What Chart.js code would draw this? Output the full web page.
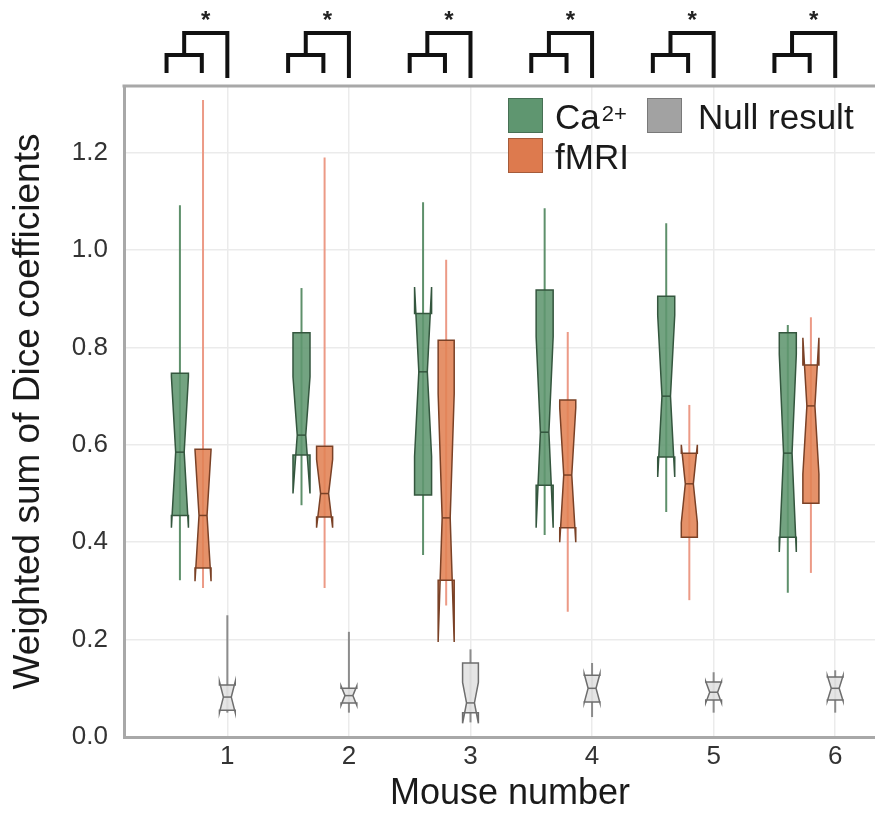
<!DOCTYPE html>
<html>
<head>
<meta charset="utf-8">
<script src="https://cdn.jsdelivr.net/npm/chart.js@4.4.0/dist/chart.umd.min.js"></script>
<style>
html, body { margin: 0; padding: 0; background: #fff; overflow: hidden; }
#wrap { width: 900px; height: 816px; }
</style>
</head>
<body>
<div id="wrap"><canvas id="myChart" width="900" height="816"></canvas></div>
<script>
const mice = [1, 2, 3, 4, 5, 6];
const yTicks = [0, 0.2, 0.4, 0.6, 0.8, 1.0, 1.2];
const seriesNames = ['Ca2+', 'fMRI', 'Null result'];

// each row: [whisker low, q1, median, q3, whisker high, notch half-height]
const caStats = [
  [0.322, 0.455, 0.585, 0.747, 1.092, 0.155],
  [0.476, 0.579, 0.620, 0.830, 0.922, 0.120],
  [0.374, 0.497, 0.750, 0.870, 1.098, 0.174],
  [0.415, 0.517, 0.626, 0.918, 1.086, 0.196],
  [0.462, 0.575, 0.700, 0.905, 1.055, 0.166],
  [0.296, 0.410, 0.583, 0.830, 0.846, 0.203]
];
const fmriStats = [
  [0.306, 0.347, 0.455, 0.591, 1.308, 0.135],
  [0.306, 0.452, 0.500, 0.597, 1.190, 0.070],
  [0.270, 0.322, 0.450, 0.815, 0.980, 0.255],
  [0.257, 0.430, 0.538, 0.692, 0.832, 0.138],
  [0.281, 0.410, 0.520, 0.583, 0.682, 0.080],
  [0.337, 0.480, 0.680, 0.764, 0.862, 0.140]
];
const nullStats = [
  [0.050, 0.055, 0.082, 0.107, 0.250, 0.032],
  [0.050, 0.070, 0.085, 0.100, 0.216, 0.020],
  [0.030, 0.050, 0.070, 0.152, 0.180, 0.042],
  [0.041, 0.072, 0.100, 0.127, 0.152, 0.030],
  [0.050, 0.076, 0.092, 0.113, 0.133, 0.022],
  [0.050, 0.076, 0.100, 0.123, 0.137, 0.026]
];

const FONT = '"Liberation Sans", Arial, Helvetica, sans-serif';

const styles = [
  { offset: -0.39, halfW: 0.07, fill: 'rgba(96,150,112,0.88)', edge: '#34563e', whisker: '#5e906b' },
  { offset: -0.20, halfW: 0.066, fill: 'rgba(225,130,84,0.88)', edge: '#7a4126', whisker: '#ec9a86' },
  { offset: 0, halfW: 0.065, fill: 'rgba(226,226,226,0.9)', edge: '#6e6e6e', whisker: '#8c8c8c' }
];
const allStats = [caStats, fmriStats, nullStats];

function drawBox(ctx, xs, ys, xc, st, s) {
  const [lo, q1, med, q3, hi, c] = s;
  const left = xs.getPixelForValue(xc - st.halfW);
  const right = xs.getPixelForValue(xc + st.halfW);
  const mid = xs.getPixelForValue(xc);
  const inset = (right - left) / 4;
  const py = v => ys.getPixelForValue(v);

  ctx.strokeStyle = st.whisker;
  ctx.lineWidth = 2;
  ctx.beginPath();
  ctx.moveTo(mid, py(lo));
  ctx.lineTo(mid, py(hi));
  ctx.stroke();

  ctx.beginPath();
  ctx.moveTo(left, py(q1));
  ctx.lineTo(left, py(med - c));
  ctx.lineTo(left + inset, py(med));
  ctx.lineTo(left, py(med + c));
  ctx.lineTo(left, py(q3));
  ctx.lineTo(right, py(q3));
  ctx.lineTo(right, py(med + c));
  ctx.lineTo(right - inset, py(med));
  ctx.lineTo(right, py(med - c));
  ctx.lineTo(right, py(q1));
  ctx.closePath();
  ctx.fillStyle = st.fill;
  ctx.fill();
  ctx.strokeStyle = st.edge;
  ctx.lineWidth = 1.5;
  ctx.stroke();

  ctx.beginPath();
  ctx.moveTo(left + inset, py(med));
  ctx.lineTo(right - inset, py(med));
  ctx.stroke();
}

const boxPlugin = {
  id: 'boxes',
  beforeDatasetsDraw(chart) {
    // top frame line
    const { ctx, chartArea } = chart;
    ctx.save();
    ctx.strokeStyle = '#a8a8a8';
    ctx.lineWidth = 3;
    ctx.beginPath();
    ctx.moveTo(chartArea.left - 1.5, chartArea.top);
    ctx.lineTo(chartArea.right, chartArea.top);
    ctx.stroke();
    ctx.restore();
  },
  afterDatasetsDraw(chart) {
    const { ctx, scales: { x, y }, chartArea } = chart;
    ctx.save();
    ctx.beginPath();
    ctx.rect(chartArea.left, chartArea.top, chartArea.right - chartArea.left, chartArea.bottom - chartArea.top);
    ctx.clip();
    allStats.forEach((stats, si) => {
      stats.forEach((s, i) => drawBox(ctx, x, y, mice[i] + styles[si].offset, styles[si], s));
    });
    ctx.restore();

    // significance brackets above each mouse
    ctx.save();
    ctx.strokeStyle = '#111';
    ctx.lineWidth = 4;
    ctx.lineCap = 'butt';
    const t = chartArea.top;
    mice.forEach(m => {
      const xa = x.getPixelForValue(m - 0.5);
      const xb = x.getPixelForValue(m - 0.21);
      const xn = x.getPixelForValue(m);
      const xm = (xa + xb) / 2;
      ctx.beginPath();
      ctx.moveTo(xa, t - 13); ctx.lineTo(xa, t - 31); ctx.lineTo(xb, t - 31); ctx.lineTo(xb, t - 13);
      ctx.moveTo(xm, t - 31); ctx.lineTo(xm, t - 53); ctx.lineTo(xn, t - 53); ctx.lineTo(xn, t - 8);
      ctx.stroke();
      ctx.fillStyle = '#222';
      ctx.font = 'bold 24px ' + FONT;
      ctx.textAlign = 'center';
      ctx.textBaseline = 'middle';
      ctx.fillText('*', (xm + xn) / 2, t - 65);
    });
    ctx.restore();

    // legend
    ctx.save();
    const legend = [
      { sx: 508, sy: 98, tx: 555, ty: 129, si: 0 },
      { sx: 508, sy: 138, tx: 555, ty: 169, si: 1 },
      { sx: 647, sy: 98, tx: 698, ty: 129, si: 2 }
    ];
    const swatch = ['#5f9670', '#dd7a4e', '#a2a2a2'];
    legend.forEach(L => {
      ctx.fillStyle = swatch[L.si];
      ctx.fillRect(L.sx, L.sy, 35, 35);
      ctx.strokeStyle = 'rgba(0,0,0,0.25)';
      ctx.lineWidth = 1;
      ctx.strokeRect(L.sx + 0.5, L.sy + 0.5, 34, 34);
      ctx.fillStyle = '#1a1a1a';
      ctx.textAlign = 'left';
      ctx.textBaseline = 'alphabetic';
      ctx.font = '35px ' + FONT;
      if (L.si === 0) {
        ctx.fillText('Ca', L.tx, L.ty);
        const w = ctx.measureText('Ca').width;
        ctx.font = '22px ' + FONT;
        ctx.fillText('2+', L.tx + w + 2, L.ty - 8);
      } else {
        ctx.fillText(seriesNames[L.si], L.tx, L.ty);
      }
    });
    ctx.restore();
  }
};

const datasets = allStats.map((stats, si) => ({
  label: seriesNames[si],
  data: stats.map((s, i) => ({ x: mice[i] + styles[si].offset, y: s[2] })),
  pointRadius: 0,
  showLine: false
}));

const ctx = document.getElementById('myChart').getContext('2d');
new Chart(ctx, {
  type: 'scatter',
  data: { datasets: datasets },
  options: {
    responsive: false,
    animation: false,
    layout: { padding: { top: 86, right: 4, left: 0, bottom: 0 } },
    plugins: {
      legend: { display: false },
      tooltip: { enabled: false }
    },
    scales: {
      x: {
        type: 'linear',
        min: 0.15,
        max: 6.5,
        afterFit: s => { s.height = 79; },
        afterBuildTicks: s => { s.ticks = mice.map(v => ({ value: v })); },
        grid: { color: '#ebebeb', lineWidth: 1.5, drawTicks: false },
        border: { color: '#a8a8a8', width: 3 },
        ticks: { padding: 4, color: '#333', font: { family: FONT, size: 26 } },
        title: { display: true, text: 'Mouse number', color: '#1a1a1a', padding: { top: 0, bottom: 0 }, font: { family: FONT, size: 36 } }
      },
      y: {
        type: 'linear',
        min: 0,
        max: 1.337,
        afterFit: s => { s.width = 124; },
        afterBuildTicks: s => { s.ticks = yTicks.map(v => ({ value: v })); },
        grid: { color: '#ebebeb', lineWidth: 1.5, drawTicks: false },
        border: { color: '#a8a8a8', width: 3 },
        ticks: { padding: 16, color: '#333', font: { family: FONT, size: 26 }, callback: v => v.toFixed(1) },
        title: { display: true, text: 'Weighted sum of Dice coefficients', color: '#1a1a1a', padding: { top: 7, bottom: 0 }, font: { family: FONT, size: 37 } }
      }
    }
  },
  plugins: [boxPlugin]
});
</script>
</body>
</html>
